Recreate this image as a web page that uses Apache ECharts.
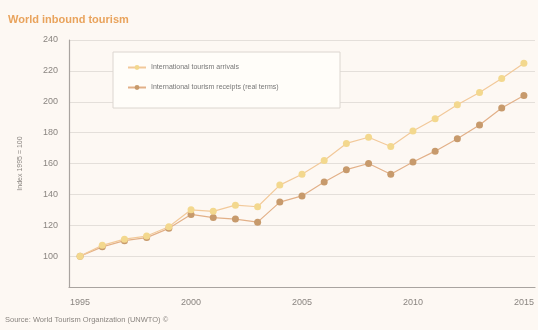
<!DOCTYPE html>
<html>
<head>
<meta charset="utf-8">
<script src="https://cdn.jsdelivr.net/npm/echarts@6/dist/echarts.min.js"></script>
<style>
  html, body { margin: 0; padding: 0; background: #fdf8f3; }
  #chart { width: 538px; height: 330px; }
</style>
</head>
<body>
<div id="chart"></div>
<script>
// Years on the horizontal axis
const years = ['1995','1996','1997','1998','1999','2000','2001','2002','2003','2004',
               '2005','2006','2007','2008','2009','2010','2011','2012','2013','2014','2015'];

// Index values, 1995 = 100
const arrivals = [100, 107, 111, 113, 119, 130, 129, 133, 132, 146,
                  153, 162, 173, 177, 171, 181, 189, 198, 206, 215, 225];
const receipts = [100, 106, 110, 112, 118, 127, 125, 124, 122, 135,
                  139, 148, 156, 160, 153, 161, 168, 176, 185, 196, 204];

const seriesNames = ['International tourism arrivals', 'International tourism receipts (real terms)'];
const yTicks = { min: 80, max: 240, step: 20 };

const chart = echarts.init(document.getElementById('chart'));
chart.setOption({
  backgroundColor: '#fdf8f3',
  animation: false,
  textStyle: { fontFamily: 'Liberation Sans, Arial, sans-serif' },
  title: {
    text: 'World inbound tourism',
    left: 3, top: 9,
    textStyle: { color: '#e9a35c', fontSize: 11, fontWeight: 'bold' }
  },
  graphic: [
    {
      type: 'rect',
      shape: { x: 113, y: 52, width: 227, height: 56 },
      style: { fill: '#fffdf9', stroke: '#dcd6d0', lineWidth: 1 },
      z: 5
    },
    {
      type: 'text',
      left: 5, top: 316,
      style: { text: 'Source: World Tourism Organization (UNWTO) ©', fill: '#8a8580', fontSize: 7.5 }
    }
  ],
  legend: {
    left: 122, top: 59,
    orient: 'vertical',
    itemGap: 13,
    itemWidth: 18, itemHeight: 6,
    data: seriesNames,
    textStyle: { color: '#777', fontSize: 7 },
    z: 6
  },
  grid: { left: 69, right: 3, top: 40, bottom: 43 },
  xAxis: {
    type: 'category',
    data: years,
    boundaryGap: true,
    axisLine: { lineStyle: { color: '#a9a4a0', width: 1.2 } },
    axisTick: { show: false },
    axisLabel: {
      interval: 4, color: '#8a8580', fontSize: 9, margin: 11
    },
    splitLine: { show: false }
  },
  yAxis: {
    type: 'value',
    name: 'Index 1995 = 100',
    nameLocation: 'middle',
    nameGap: 45,
    nameRotate: 90,
    nameTextStyle: { color: '#8a8580', fontSize: 7 },
    min: yTicks.min, max: yTicks.max, interval: yTicks.step,
    axisLine: { show: true, lineStyle: { color: '#a9a4a0', width: 1.2 } },
    axisTick: { show: false },
    axisLabel: {
      color: '#8a8580', fontSize: 9, margin: 11,
      formatter: v => (v === yTicks.min ? '' : v)
    },
    splitLine: { lineStyle: { color: '#e4dfda', width: 1.2 } }
  },
  series: [
    {
      name: seriesNames[1],
      type: 'line',
      data: receipts,
      symbol: 'circle',
      symbolSize: 7,
      itemStyle: { color: '#c79a6c' },
      lineStyle: { color: '#e2b088', width: 1.2 },
      z: 3
    },
    {
      name: seriesNames[0],
      type: 'line',
      data: arrivals,
      symbol: 'circle',
      symbolSize: 7,
      itemStyle: { color: '#f3d88e' },
      lineStyle: { color: '#f2c99a', width: 1.2 },
      z: 4
    }
  ]
});
// keep legend order: arrivals first
chart.setOption({ legend: { data: seriesNames } });
</script>
</body>
</html>
